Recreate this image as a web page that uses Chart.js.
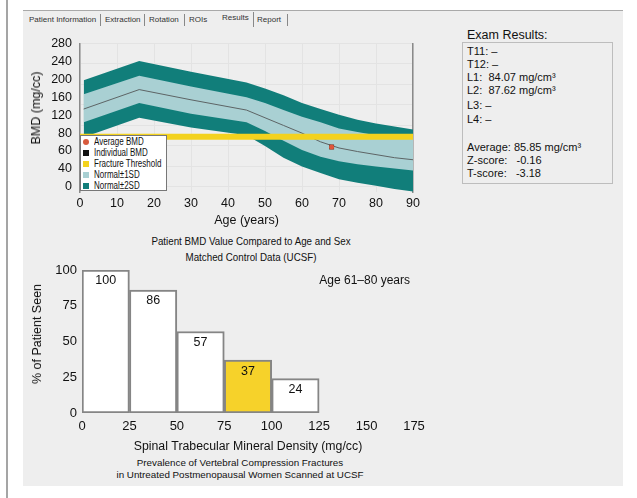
<!DOCTYPE html>
<html>
<head>
<meta charset="utf-8">
<script src="https://cdn.jsdelivr.net/npm/chart.js@4"></script>
<style>
  body { margin: 0; width: 637px; height: 498px; position: relative; overflow: hidden; background: #fff;
         font-family: 'Liberation Sans', Arial, sans-serif; color: #111; }
  .abs { position: absolute; }
  .tab { position: absolute; top: 15px; font-size: 8px; color: #333; white-space: nowrap; }
  .sep { position: absolute; top: 14px; width: 1px; height: 12px; background: #888; }
  .leg { position: absolute; left: 80px; top: 135px; width: 87px; height: 56px; background: #fff;
         border: 1.5px solid #777; box-sizing: border-box; }
  .li { position: absolute; left: 2px; font-size: 10px; white-space: nowrap; line-height: 11px; }
  .li i { display: inline-block; width: 6px; height: 6px; margin-right: 5px; vertical-align: 0px; }
  .li span { display: inline-block; transform: scaleX(0.8); transform-origin: left center; }
  .ex { position: absolute; left: 467px; font-size: 11px; white-space: pre; line-height: 13px; }
  .cap { position: absolute; text-align: center; white-space: nowrap; }
  .ytitle { position: absolute; white-space: nowrap; transform: translate(-50%, -50%) rotate(-90deg); }
</style>
</head>
<body>
<div class="abs" style="left:6px;top:0;width:2px;height:498px;background:#a5a5a5"></div>
<div class="abs" style="left:23px;top:10px;width:600px;height:475px;background:#eeeeee;border-top:1px solid #a9a9a9"></div>

<span class="tab" style="left:29px">Patient Information</span><span class="sep" style="left:100px"></span>
<span class="tab" style="left:105px">Extraction</span><span class="sep" style="left:144px"></span>
<span class="tab" style="left:149px">Rotation</span><span class="sep" style="left:184px"></span>
<span class="tab" style="left:189px">ROIs</span>
<span class="tab" style="left:222px;top:13px">Results</span><span class="sep" style="left:253px;top:12px;height:15px"></span>
<span class="tab" style="left:257px">Report</span><span class="sep" style="left:287px"></span>

<div class="abs" style="left:0;top:28px"><canvas id="bmdChart" width="440" height="200"></canvas></div>
<div class="ytitle" style="left:36px;top:108px;font-size:12.5px">BMD (mg/cc)</div>

<div class="leg">
  <div class="li" style="top:0px"><i style="background:#d85a3c;border-radius:50%"></i><span>Average BMD</span></div>
  <div class="li" style="top:11px"><i style="background:#111"></i><span>Individual BMD</span></div>
  <div class="li" style="top:22px"><i style="background:#f3d21e"></i><span>Fracture Threshold</span></div>
  <div class="li" style="top:33px"><i style="background:#a9d0d3"></i><span>Normal±1SD</span></div>
  <div class="li" style="top:44px"><i style="background:#117e7a"></i><span>Normal±2SD</span></div>
</div>

<div class="cap" style="left:101px;width:300px;top:233px;font-size:11.5px;line-height:16px;transform:scaleX(0.85)">Patient BMD Value Compared to Age and Sex<br>Matched Control Data (UCSF)</div>

<div class="abs" style="left:462px;top:42px;width:151px;height:142px;border:1px solid #bdbdbd;box-sizing:border-box"></div>
<div class="abs" style="left:466px;top:28px;font-size:12.5px;background:#eeeeee;padding:0 1px">Exam Results:</div>
<div class="ex" style="top:45px">T11: –</div>
<div class="ex" style="top:58px">T12: –</div>
<div class="ex" style="top:71px">L1:  84.07 mg/cm³</div>
<div class="ex" style="top:84px">L2:  87.62 mg/cm³</div>
<div class="ex" style="top:99px">L3: –</div>
<div class="ex" style="top:113px">L4: –</div>
<div class="ex" style="top:141px">Average: 85.85 mg/cm³</div>
<div class="ex" style="top:154px">Z-score:   -0.16</div>
<div class="ex" style="top:167px">T-score:   -3.18</div>

<div class="abs" style="left:0;top:255px"><canvas id="fxChart" width="440" height="199"></canvas></div>
<div class="ytitle" style="left:37px;top:334px;font-size:12.5px">% of Patient Seen</div>
<div class="abs" style="left:300px;top:273px;width:110px;text-align:right;font-size:12px;white-space:nowrap">Age 61–80 years</div>

<div class="cap" style="left:90px;width:300px;top:457px;font-size:9.8px;line-height:12px">Prevalence of Vertebral Compression Fractures<br>in Untreated Postmenopausal Women Scanned at UCSF</div>

<script>
// top chart: age-matched normal curves (mg/cc)
const ages = [1, 16, 30, 45, 50, 55, 60, 65, 70, 75, 80, 85, 90];
const outerTop = [208, 246, 225, 204, 192, 179, 164, 152, 141, 131, 124, 118, 112];
const innerTop = [181, 217, 196, 175, 164, 150, 137, 126, 114, 107, 101, 97, 95];
const meanBmd = [152, 190, 170, 150, 135, 120, 105, 88, 76, 69, 63, 57, 53];
const innerBottom = [126, 164, 143, 126, 109, 90, 72, 59, 50, 44, 40, 36, 32];
const outerBottom = [97, 135, 116, 101, 80, 57, 40, 27, 15, 8, 2, -4, -9];
const thresholdAges = [0, 90];
const thresholdBmd = 98;
const patientAge = 68;
const patientBmd = 78;
const yTickLabels = ['0', '40', '60', '80', '120', '160', '200', '240', '280'];

// bottom chart: fracture prevalence by density bin
const densityBins = [0, 25, 50, 75, 100];
const binWidth = 25;
const prevalence = [100, 86, 57, 37, 24];
const patientBin = 3;

const FONT = "'Liberation Sans', Arial, sans-serif";
Chart.defaults.font.family = FONT;
Chart.defaults.color = '#111';

const pts = arr => ages.map((a, i) => ({ x: a, y: arr[i] }));
const band = (data, color, fill) => ({
  data: data, fill: fill, backgroundColor: color, borderWidth: 0, pointRadius: 0, tension: 0
});

new Chart(document.getElementById('bmdChart'), {
  type: 'line',
  data: {
    datasets: [
      { data: [{ x: patientAge, y: patientBmd }], showLine: false, pointStyle: 'circle',
        pointRadius: 2.5, pointBackgroundColor: '#e0553a', pointBorderWidth: 0 },
      { data: [{ x: patientAge, y: patientBmd }], showLine: false, pointStyle: 'rect',
        pointRadius: 3.5, pointBackgroundColor: '#5b3326', pointBorderWidth: 0 },
      { data: thresholdAges.map(a => ({ x: a, y: thresholdBmd })), borderColor: '#f3d21e',
        borderWidth: 6, pointRadius: 0, fill: false },
      { data: pts(meanBmd), borderColor: '#5d6465', borderWidth: 1, pointRadius: 0, fill: false, tension: 0 },
      band(pts(innerTop), '#a9d0d3', '+1'),
      band(pts(innerBottom), '#a9d0d3', false),
      band(pts(outerTop), '#117e7a', '+1'),
      band(pts(outerBottom), '#117e7a', false)
    ]
  },
  options: {
    responsive: false,
    animation: false,
    layout: { padding: { left: 0, right: 27, top: 12, bottom: 0 } },
    plugins: { legend: { display: false }, tooltip: { enabled: false } },
    scales: {
      x: {
        type: 'linear', min: 0, max: 90,
        ticks: { stepSize: 10, padding: 4, font: { size: 12.5 } },
        grid: { color: '#e3e3e3', drawTicks: false },
        border: { display: false },
        title: { display: true, text: 'Age (years)', font: { size: 12.5 }, padding: { top: 1, bottom: 0 } },
        afterFit: s => { s.height = 36; }
      },
      yl: {
        type: 'linear', position: 'left', min: -10, max: 280,
        afterBuildTicks: s => { s.ticks = yTickLabels.map((l, i) => ({ value: i * 35 })); },
        ticks: { padding: 8, autoSkip: false, font: { size: 12.5 }, callback: (v, i) => yTickLabels[i] },
        grid: { display: false, drawTicks: false },
        border: { display: true, color: '#8a8a8a', width: 1.5 },
        afterFit: s => { s.width = 80; }
      },
      y: {
        type: 'linear', position: 'right', min: -10, max: 280,
        afterBuildTicks: s => { s.ticks = [0, 40, 80, 120, 160, 200, 240, 280].map(v => ({ value: v })); },
        ticks: { display: false },
        grid: { color: '#e3e3e3', drawTicks: false },
        border: { display: true, color: '#8a8a8a', width: 1.5 },
        afterFit: s => { s.width = 0; }
      }
    }
  }
});

const barLabels = {
  id: 'barLabels',
  afterDatasetsDraw(chart) {
    const ctx = chart.ctx;
    const meta = chart.getDatasetMeta(0);
    ctx.save();
    ctx.font = '12.5px ' + FONT;
    ctx.fillStyle = '#111';
    ctx.textAlign = 'center';
    ctx.textBaseline = 'middle';
    meta.data.forEach((bar, i) => ctx.fillText(String(prevalence[i]), bar.x, bar.y + 11));
    ctx.restore();
  }
};

new Chart(document.getElementById('fxChart'), {
  type: 'bar',
  data: {
    datasets: [{
      data: densityBins.map((b, i) => ({ x: b + binWidth / 2, y: prevalence[i] })),
      backgroundColor: densityBins.map((b, i) => i === patientBin ? '#f6d22a' : '#ffffff'),
      borderColor: '#858585',
      borderWidth: 2,
      borderSkipped: false,
      barPercentage: 1,
      categoryPercentage: 1
    }]
  },
  plugins: [barLabels],
  options: {
    responsive: false,
    animation: false,
    layout: { padding: { left: 0, right: 26, top: 15, bottom: 0 } },
    plugins: { legend: { display: false }, tooltip: { enabled: false } },
    scales: {
      x: {
        type: 'linear', min: 0, max: 175, offset: false,
        ticks: { stepSize: 25, padding: 6, font: { size: 13 } },
        grid: { display: false, drawTicks: false },
        border: { display: false },
        title: { display: true, text: 'Spinal Trabecular Mineral Density (mg/cc)', font: { size: 12.3 }, padding: { top: 1, bottom: 0 } },
        afterFit: s => { s.height = 41; }
      },
      y: {
        min: 0, max: 100,
        ticks: { stepSize: 25, padding: 5, font: { size: 13 } },
        grid: { display: false, drawTicks: false },
        border: { display: false },
        afterFit: s => { s.width = 82; }
      }
    }
  }
});
</script>
</body>
</html>
